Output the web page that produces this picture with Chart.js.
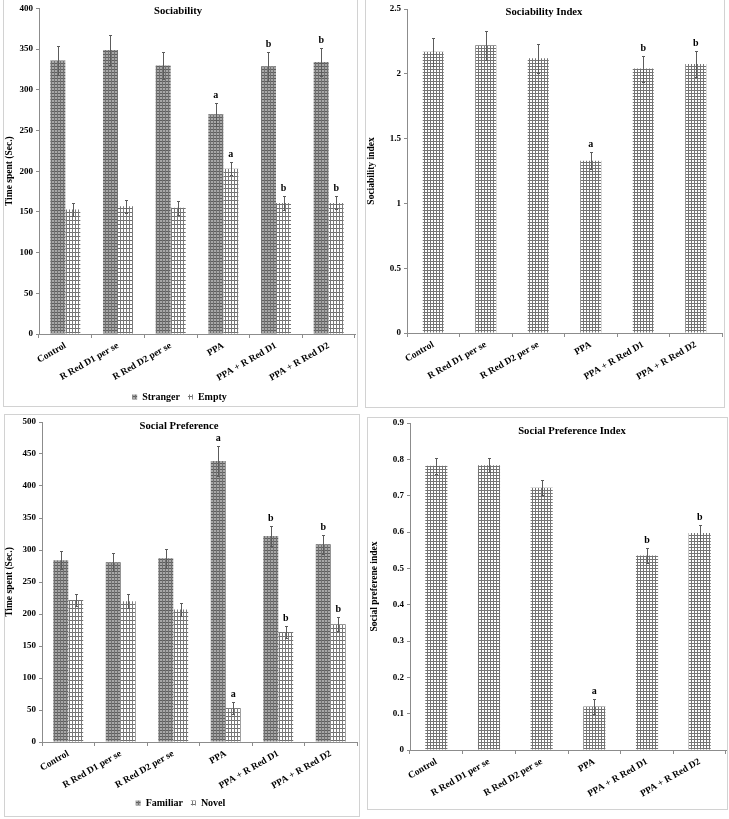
<!DOCTYPE html>
<html>
<head>
<meta charset="utf-8">
<script src="https://cdn.jsdelivr.net/npm/chart.js@4.4.1/dist/chart.umd.min.js"></script>
<style>
  body { margin: 0; background: #fff; width: 729px; height: 819px; position: relative; overflow: hidden; }
  .box { position: absolute; border: 1px solid #d2d2d2; }
  canvas { position: absolute; }
</style>
</head>
<body>
<div class="box" style="left:3px;top:-1px;width:353px;height:406px"></div>
<div class="box" style="left:365px;top:-1px;width:358px;height:407px"></div>
<div class="box" style="left:4px;top:414px;width:354px;height:401px"></div>
<div class="box" style="left:367px;top:417px;width:359px;height:391px"></div>
<canvas id="sociability" width="364" height="412" style="left:0;top:0"></canvas>
<canvas id="sociabilityIndex" width="365" height="412" style="left:364px;top:0"></canvas>
<canvas id="socialPref" width="364" height="407" style="left:0;top:412px"></canvas>
<canvas id="socialPrefIndex" width="365" height="407" style="left:364px;top:412px"></canvas>
<script>
// groups on the x axis
const groups = ["Control", "R Red D1 per se", "R Red D2 per se", "PPA", "PPA + R Red D1", "PPA + R Red D2"];

// Sociability (sec)
const strangerMean = [336, 349, 330, 270, 329, 334];
const strangerErr = [18, 18, 17, 14, 18, 17];
const strangerSig = ["", "", "", "a", "b", "b"];
const emptyMean = [153, 157, 155, 203, 161, 161];
const emptyErr = [8, 8, 9, 8, 9, 8];
const emptySig = ["", "", "", "a", "b", "b"];

// Sociability index
const sociabilityIdx = [2.17, 2.22, 2.12, 1.33, 2.04, 2.075];
const sociabilityIdxErr = [0.11, 0.11, 0.11, 0.065, 0.10, 0.10];
const sociabilityIdxSig = ["", "", "", "a", "b", "b"];

// Social preference (sec)
const familiarMean = [284, 281, 287, 439, 322, 309];
const familiarErr = [14, 14, 15, 23, 16, 15];
const familiarSig = ["", "", "", "a", "b", "b"];
const novelMean = [222, 220, 207, 53, 172, 184];
const novelErr = [10, 11, 10, 10, 10, 11];
const novelSig = ["", "", "", "a", "b", "b"];

// Social preference index
const socialPrefIdx = [0.782, 0.784, 0.722, 0.12, 0.535, 0.597];
const socialPrefIdxErr = [0.021, 0.02, 0.021, 0.021, 0.02, 0.021];
const socialPrefIdxSig = ["", "", "", "a", "b", "b"];

const SERIF = "'Liberation Serif', 'Times New Roman', Times, serif";
Chart.defaults.font.family = SERIF;
Chart.defaults.font.weight = "bold";
Chart.defaults.color = "#000";

function hatch(w, h, bg, lineH, lineV) {
    const c = document.createElement("canvas");
    c.width = w; c.height = h;
    const g = c.getContext("2d");
    g.fillStyle = bg; g.fillRect(0, 0, w, h);
    g.fillStyle = lineH; g.fillRect(0, 0, w, 1);
    g.fillStyle = lineV; g.fillRect(0, 0, 1, h);
    return g.createPattern(c, "repeat");
}
const darkGrid = hatch(3, 3, "#a8a8a8", "#5e5e5e", "#727272");
const lightGrid = hatch(3, 4, "#ffffff", "#707070", "#7a7a7a");
const indexGrid = hatch(3, 3, "#ffffff", "#747474", "#747474");

// error bars + significance letters
const errorBars = {
    id: "errorBars",
    afterDatasetsDraw(chart) {
        const ctx = chart.ctx;
        const y = chart.scales.y;
        chart.data.datasets.forEach((ds, i) => {
            const meta = chart.getDatasetMeta(i);
            meta.data.forEach((bar, j) => {
                const v = ds.data[j], e = ds.err[j];
                const x = Math.round(bar.x) + 0.5;
                const top = Math.round(y.getPixelForValue(v + e)) + 0.5;
                const bot = Math.round(y.getPixelForValue(v - e)) + 0.5;
                ctx.save();
                ctx.strokeStyle = "#5c5c5c";
                ctx.lineWidth = 1;
                ctx.beginPath();
                ctx.moveTo(x, top); ctx.lineTo(x, bot);
                ctx.moveTo(x - 1.5, top); ctx.lineTo(x + 1.5, top);
                ctx.moveTo(x - 1.5, bot); ctx.lineTo(x + 1.5, bot);
                ctx.stroke();
                if (ds.sig && ds.sig[j]) {
                    ctx.fillStyle = "#000";
                    ctx.font = "bold 10px " + SERIF;
                    ctx.textAlign = "center";
                    ctx.textBaseline = "middle";
                    ctx.fillText(ds.sig[j], bar.x, top - 8);
                }
                ctx.restore();
            });
        });
    }
};

// title drawn inside the plot, as in the figure
const panelTitle = {
    id: "panelTitle",
    afterDraw(chart, args, opts) {
        const ctx = chart.ctx;
        ctx.save();
        ctx.fillStyle = "#000";
        ctx.font = "bold 10.7px " + SERIF;
        ctx.textAlign = "center";
        ctx.textBaseline = "middle";
        ctx.fillText(opts.text, opts.x, opts.y);
        ctx.restore();
    }
};

function barChart(id, cfg) {
    return new Chart(document.getElementById(id), {
        type: "bar",
        data: { labels: groups, datasets: cfg.datasets },
        options: {
            responsive: false,
            animation: false,
            devicePixelRatio: 1,
            layout: { padding: cfg.padding },
            datasets: { bar: { categoryPercentage: cfg.catPct, barPercentage: 1, borderWidth: 0 } },
            plugins: {
                legend: cfg.legend ? {
                    position: "bottom",
                    labels: { boxWidth: 5, boxHeight: 5, padding: 8, font: { size: 10, weight: "bold" }, color: "#000" }
                } : { display: false },
                tooltip: { enabled: false },
                panelTitle: cfg.title
            },
            scales: {
                x: {
                    grid: { offset: true, drawOnChartArea: false, color: "#8c8c8c", tickLength: 4 },
                    border: { color: "#8c8c8c" },
                    ticks: { minRotation: 30, maxRotation: 30, autoSkip: false, padding: 2, font: { size: 9.5, weight: "bold" } },
                    afterFit: s => { s.height = cfg.xHeight; }
                },
                y: {
                    min: 0,
                    max: cfg.max,
                    ticks: { stepSize: cfg.step, padding: 3, font: { size: 9, weight: "bold" }, callback: v => String(+v.toFixed(cfg.dec)) },
                    grid: { drawOnChartArea: false, color: "#8c8c8c", tickLength: 3 },
                    border: { color: "#8c8c8c" },
                    title: { display: true, text: cfg.yTitle, padding: 0, font: { size: 9.5, weight: "bold" } },
                    afterFit: s => { s.width = cfg.yWidth; }
                }
            }
        },
        plugins: [errorBars, panelTitle]
    });
}

document.addEventListener("DOMContentLoaded", function () {
    barChart("sociability", {
        datasets: [
            { label: "Stranger", data: strangerMean, err: strangerErr, sig: strangerSig, backgroundColor: darkGrid },
            { label: "Empty", data: emptyMean, err: emptyErr, sig: emptySig, backgroundColor: lightGrid }
        ],
        legend: true,
        padding: { left: 4, right: 9, top: 7, bottom: 0 },
        xHeight: 50, yWidth: 35, catPct: 0.57,
        max: 400, step: 50, dec: 0,
        yTitle: "Time spent (Sec.)",
        title: { text: "Sociability", x: 178, y: 11 }
    });

    barChart("sociabilityIndex", {
        datasets: [
            { label: "Sociability index", data: sociabilityIdx, err: sociabilityIdxErr, sig: sociabilityIdxSig, backgroundColor: indexGrid }
        ],
        legend: false,
        padding: { left: 2, right: 7, top: 9, bottom: 0 },
        xHeight: 79, yWidth: 41, catPct: 0.4,
        max: 2.5, step: 0.5, dec: 1,
        yTitle: "Sociability index",
        title: { text: "Sociability Index", x: 180, y: 12 }
    });

    barChart("socialPref", {
        datasets: [
            { label: "Familiar", data: familiarMean, err: familiarErr, sig: familiarSig, backgroundColor: darkGrid },
            { label: "Novel", data: novelMean, err: novelErr, sig: novelSig, backgroundColor: lightGrid }
        ],
        legend: true,
        padding: { left: 4, right: 7, top: 10, bottom: 1 },
        xHeight: 48, yWidth: 38, catPct: 0.57,
        max: 500, step: 50, dec: 0,
        yTitle: "Time spent (Sec.)",
        title: { text: "Social Preference", x: 179, y: 14 }
    });

    barChart("socialPrefIndex", {
        datasets: [
            { label: "Social preference index", data: socialPrefIdx, err: socialPrefIdxErr, sig: socialPrefIdxSig, backgroundColor: indexGrid }
        ],
        legend: false,
        padding: { left: 5, right: 3, top: 11, bottom: 0 },
        xHeight: 69, yWidth: 41, catPct: 0.42,
        max: 0.9, step: 0.1, dec: 1,
        yTitle: "Social preferene index",
        title: { text: "Social Preference Index", x: 208, y: 19 }
    });
});
</script>
</body>
</html>
